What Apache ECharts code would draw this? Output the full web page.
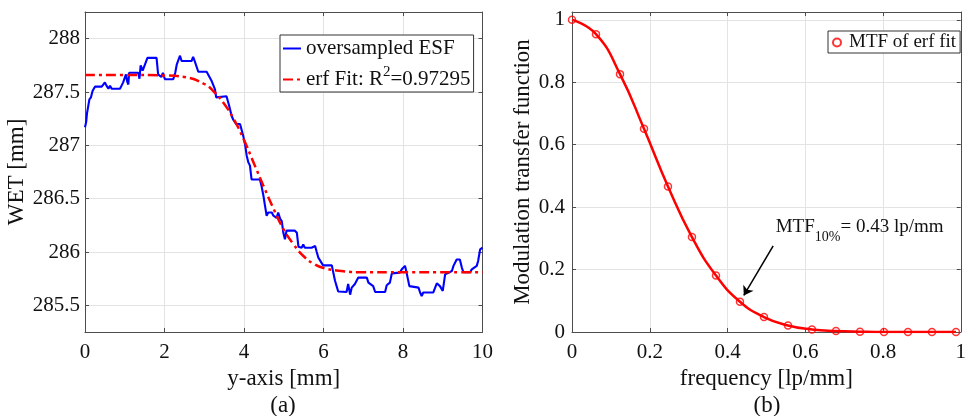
<!DOCTYPE html>
<html>
<head>
<meta charset="utf-8">
<script src="https://cdn.jsdelivr.net/npm/echarts@6/dist/echarts.min.js"></script>
<style>
  html, body { margin: 0; padding: 0; background: #fff; }
  #chart { width: 969px; height: 416px; }
</style>
</head>
<body>
<div id="chart"></div>
<script>
// (a) oversampled edge spread function
var esfX = [0, 0.03, 0.05, 0.11, 0.15, 0.19, 0.25, 0.42, 0.46, 0.50, 0.54, 0.59, 0.63, 0.67, 0.88, 0.92, 0.96,
  1.03, 1.06, 1.09, 1.11, 1.34, 1.37, 1.40, 1.45, 1.51, 1.57, 1.80, 1.84, 1.88, 1.92, 1.96, 2.01, 2.22, 2.27,
  2.31, 2.39, 2.43, 2.68, 2.72, 2.76, 2.80, 2.85, 3.06, 3.08, 3.19, 3.23, 3.27, 3.30, 3.56, 3.62, 3.69, 3.73,
  3.80, 3.90, 3.98, 4.03, 4.07, 4.11, 4.15, 4.19, 4.40, 4.44, 4.49, 4.53, 4.57, 4.61, 4.70, 4.74, 4.82, 4.86,
  4.91, 4.95, 4.99, 5.03, 5.07, 5.28, 5.33, 5.37, 5.45, 5.49, 5.53, 5.70, 5.74, 5.79, 5.83, 5.87, 5.91, 5.99,
  6.21, 6.25, 6.29, 6.33, 6.37, 6.58, 6.62, 6.67, 6.71, 6.79, 6.875, 7.09, 7.13, 7.25, 7.30, 7.55, 7.59, 7.67,
  7.72, 7.92, 7.97, 8.05, 8.09, 8.16, 8.39, 8.43, 8.47, 8.51, 8.76, 8.85, 8.93, 9.00, 9.06, 9.10, 9.23, 9.27,
  9.35, 9.43, 9.48, 9.52, 9.69, 9.73, 9.855, 9.89, 9.94, 10.0];
var esfY = [287.17, 287.22, 287.30, 287.43, 287.45, 287.51, 287.55, 287.55, 287.57, 287.59, 287.56, 287.53, 287.56,
  287.53, 287.53, 287.56, 287.59, 287.665, 287.60, 287.57, 287.68, 287.68, 287.625, 287.75, 287.70, 287.76, 287.82,
  287.82, 287.665, 287.68, 287.64, 287.68, 287.62, 287.62, 287.68, 287.76, 287.84, 287.79, 287.79, 287.83, 287.79,
  287.775, 287.69, 287.69, 287.68, 287.60, 287.59, 287.525, 287.45, 287.46, 287.38, 287.275, 287.24, 287.20, 287.20,
  287.09, 287.0, 286.90, 286.84, 286.81, 286.68, 286.68, 286.62, 286.525, 286.43, 286.34, 286.37, 286.37, 286.34,
  286.32, 286.37, 286.31, 286.29, 286.18, 286.12, 286.20, 286.20, 286.18, 286.05, 286.04, 286.07, 286.04, 286.04,
  286.045, 286.056, 286.0, 285.947, 285.93, 285.875, 285.875, 285.80, 285.73, 285.68, 285.63, 285.625, 285.70,
  285.60, 285.666, 285.70, 285.76, 285.76, 285.713, 285.68, 285.625, 285.625, 285.688, 285.713, 285.80, 285.807,
  285.838, 285.87, 285.807, 285.68, 285.666, 285.62, 285.588, 285.62, 285.62, 285.707, 285.68, 285.635, 285.79,
  285.807, 285.822, 285.87, 285.93, 285.93, 285.854, 285.81, 285.81, 285.838, 285.87, 285.916, 286.025, 286.04];

// erf fit (dash-dot red)
var fitX = [0, 1, 2, 2.5, 3, 3.25, 3.5, 3.75, 4, 4.25, 4.5, 4.75, 5, 5.25, 5.5, 5.75, 6, 6.5, 7, 8, 10];
var fitY = [287.66, 287.66, 287.655, 287.64, 287.575, 287.50, 287.39, 287.24, 287.05, 286.83, 286.61, 286.40,
  286.21, 286.07, 285.96, 285.89, 285.85, 285.82, 285.81, 285.81, 285.81];

// (b) MTF of the erf fit
var mtfF = [0, 0.0617, 0.1235, 0.1852, 0.2469, 0.3086, 0.3704, 0.4321, 0.4938, 0.5556, 0.6173, 0.679,
  0.7407, 0.8025, 0.8642, 0.9259, 0.9877];
var mtfV = [1.0, 0.954, 0.826, 0.651, 0.466, 0.304, 0.181, 0.097, 0.048, 0.021, 0.008, 0.003,
  0.001, 0, 0, 0, 0];

var wetTicks = [285.5, 286, 286.5, 287, 287.5, 288];

function pairs(xs, ys) {
  return xs.map(function (x, i) { return [x, ys[i]]; });
}

var serif = 'Liberation Serif';
var txtColor = '#111';
var axisColor = '#4d4d4d';
var gridColor = '#e3e3e3';
var tickFont = 21;
var nameFont = 23;

function frameAxis(gridIndex, pos, min, max, interval, custom) {
  var ax = {
    gridIndex: gridIndex, type: 'value', position: pos, min: min, max: max,
    axisLine: { show: true, onZero: false, lineStyle: { color: axisColor, width: 1 } },
    axisTick: { show: true, inside: true, length: 4, lineStyle: { color: axisColor } },
    axisLabel: { show: false },
    splitLine: { show: false }
  };
  if (interval) ax.interval = interval;
  if (custom) ax.axisTick.customValues = custom;
  return ax;
}

var chart = echarts.init(document.getElementById('chart'));

var option = {
  animation: false,
  backgroundColor: '#fff',
  title: [
    { text: '(a)', left: 283, top: 394, textAlign: 'center', padding: 0,
      textStyle: { fontFamily: serif, fontSize: nameFont, fontWeight: 'normal', color: txtColor } },
    { text: '(b)', left: 767, top: 394, textAlign: 'center', padding: 0,
      textStyle: { fontFamily: serif, fontSize: nameFont, fontWeight: 'normal', color: txtColor } }
  ],
  grid: [
    { left: 85, right: 486.5, top: 12, bottom: 84 },
    { left: 572, right: -1, top: 12, bottom: 84 }
  ],
  legend: [
    {
      data: ['oversampled ESF', 'erf Fit'],
      orient: 'vertical', left: 280, top: 35,
      itemWidth: 18, itemHeight: 10, itemGap: 6,
      padding: [3, 3, 2, 2],
      backgroundColor: '#fff', borderColor: '#333', borderWidth: 1,
      itemStyle: { opacity: 0 },
      formatter: function (name) {
        return name === 'erf Fit' ? '{n|erf Fit: R}{sup|2}{n|=0.97295}' : '{n|' + name + '}';
      },
      textStyle: {
        fontFamily: serif, fontSize: 21, color: txtColor,
        rich: {
          n: { fontFamily: serif, fontSize: 21, color: txtColor, lineHeight: 24 },
          sup: { fontFamily: serif, fontSize: 15, color: txtColor, padding: [0, 0, 14, 0] }
        }
      }
    },
    {
      data: ['MTF of erf fit'],
      orient: 'vertical', left: 828, top: 31,
      itemWidth: 14, itemHeight: 8,
      padding: [1, 4, 0, 4],
      backgroundColor: '#fff', borderColor: '#333', borderWidth: 1,
      textStyle: { fontFamily: serif, fontSize: 19, color: txtColor, lineHeight: 21 }
    }
  ],
  xAxis: [
    {
      gridIndex: 0, type: 'value', min: 0, max: 10, interval: 2,
      name: 'y-axis [mm]', nameLocation: 'middle', nameGap: 32,
      nameTextStyle: { fontFamily: serif, fontSize: nameFont, color: txtColor },
      axisLine: { show: true, onZero: false, lineStyle: { color: axisColor } },
      axisTick: { inside: true, length: 4, lineStyle: { color: axisColor } },
      axisLabel: { margin: 10, fontFamily: serif, fontSize: tickFont, color: txtColor },
      splitLine: { show: true, lineStyle: { color: gridColor } }
    },
    frameAxis(0, 'top', 0, 10, 2),
    {
      gridIndex: 1, type: 'value', min: 0, max: 1, interval: 0.2,
      name: 'frequency [lp/mm]', nameLocation: 'middle', nameGap: 32,
      nameTextStyle: { fontFamily: serif, fontSize: nameFont, color: txtColor },
      axisLine: { show: true, onZero: false, lineStyle: { color: axisColor } },
      axisTick: { inside: true, length: 4, lineStyle: { color: axisColor } },
      axisLabel: { margin: 10, fontFamily: serif, fontSize: tickFont, color: txtColor },
      splitLine: { show: true, lineStyle: { color: gridColor } }
    },
    frameAxis(1, 'top', 0, 1, 0.2)
  ],
  yAxis: [
    {
      gridIndex: 0, type: 'value', min: 285.25, max: 288.25,
      name: 'WET [mm]', nameLocation: 'middle', nameGap: 49,
      nameTextStyle: { fontFamily: serif, fontSize: nameFont, color: txtColor },
      axisLine: { show: true, onZero: false, lineStyle: { color: axisColor } },
      axisTick: { inside: true, length: 4, customValues: wetTicks, lineStyle: { color: axisColor } },
      axisLabel: { customValues: wetTicks, margin: 5, fontFamily: serif, fontSize: tickFont, color: txtColor },
      splitLine: { show: true, lineStyle: { color: gridColor } }
    },
    frameAxis(0, 'right', 285.25, 288.25, null, wetTicks),
    {
      gridIndex: 1, type: 'value', min: 0, max: 1.025, interval: 0.2,
      name: 'Modulation transfer function', nameLocation: 'middle', nameGap: 33,
      nameTextStyle: { fontFamily: serif, fontSize: nameFont, color: txtColor },
      axisLine: { show: true, onZero: false, lineStyle: { color: axisColor } },
      axisTick: { inside: true, length: 4, lineStyle: { color: axisColor } },
      axisLabel: { margin: 7, showMaxLabel: false, fontFamily: serif, fontSize: tickFont, color: txtColor },
      splitLine: { show: true, lineStyle: { color: gridColor } }
    },
    frameAxis(1, 'right', 0, 1.025, 0.2)
  ],
  series: [
    {
      name: 'oversampled ESF', type: 'line', xAxisIndex: 0, yAxisIndex: 0,
      data: pairs(esfX, esfY), symbol: 'none', showSymbol: false,
      lineStyle: { color: '#0000ff', width: 2.1 }, itemStyle: { color: '#0000ff' }
    },
    {
      name: 'erf Fit', type: 'line', xAxisIndex: 0, yAxisIndex: 0,
      data: pairs(fitX, fitY), symbol: 'none', showSymbol: false, smooth: true,
      lineStyle: { color: '#ff0000', width: 2.5, type: [10, 4, 3, 4] }, itemStyle: { color: '#ff0000' }
    },
    {
      name: 'mtfCurve', type: 'line', xAxisIndex: 2, yAxisIndex: 2,
      data: pairs(mtfF, mtfV), symbol: 'none', showSymbol: false, smooth: true,
      lineStyle: { color: '#ff0000', width: 2.5 }, itemStyle: { color: '#ff0000' },
      markLine: {
        silent: true, animation: false,
        symbol: ['none', 'arrow'], symbolSize: 9,
        label: { show: false },
        lineStyle: { color: '#000', width: 1.5, type: 'solid' },
        data: [[{ coord: [0.5175, 0.2756] }, { coord: [0.442, 0.117] }]]
      },
      markPoint: {
        silent: true, animation: false,
        symbol: 'circle', symbolSize: 0,
        itemStyle: { color: 'rgba(0,0,0,0)' },
        data: [{ coord: [0.524, 0.337] }],
        label: {
          show: true, position: 'right', distance: 0,
          formatter: '{m|MTF}{s|10%}{m|= 0.43 lp/mm}',
          rich: {
            m: { fontFamily: serif, fontSize: 19, color: txtColor, lineHeight: 22 },
            s: { fontFamily: serif, fontSize: 14, color: txtColor, padding: [22, 0, 0, 0] }
          }
        }
      }
    },
    {
      name: 'MTF of erf fit', type: 'scatter', xAxisIndex: 2, yAxisIndex: 2,
      data: pairs(mtfF, mtfV), symbol: 'circle', symbolSize: 7,
      itemStyle: { color: 'rgba(255,255,255,0)', borderColor: '#ff0000', borderWidth: 1.5 }
    }
  ]
};

chart.setOption(option);
</script>
</body>
</html>
